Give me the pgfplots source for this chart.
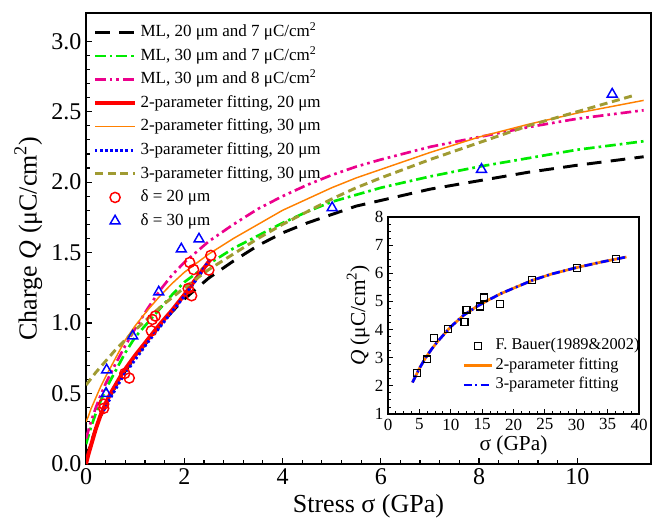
\documentclass[border=0pt]{standalone}
\usepackage{pgfplots}
\pgfplotsset{compat=1.18}
\usepackage{fontspec}
\setmainfont{Liberation Serif}
\definecolor{mgreen}{RGB}{0,235,0}
\definecolor{morange}{RGB}{255,128,0}
\definecolor{molive}{RGB}{160,155,50}
\begin{document}
\begin{tikzpicture}
\begin{axis}[
  name=main, at={(0,0)}, anchor=south west, scale only axis,
  width=423.75pt, height=338.25pt,
  xmin=0, xmax=11.5, ymin=0, ymax=3.2,
  xtick={0,2,4,6,8,10}, ytick={0,0.5,1,1.5,2,2.5,3},
  minor x tick num=4, minor y tick num=4,
  tick align=inside, xtick pos=bottom, ytick pos=left,
  major tick length=4.5pt, minor tick length=2.8pt,
  axis line style={line width=1.1pt},
  major tick style={line width=0.9pt, black},
  minor tick style={line width=0.9pt, black},
  /pgf/number format/assume math mode=true,
  tick label style={font=\fontsize{18}{20}\selectfont},
  y tick label style={/pgf/number format/.cd, fixed, fixed zerofill, precision=1},
  xlabel={Stress σ (GPa)},
  ylabel={Charge \textit{Q} (μC/cm\textsuperscript{2})},
  label style={font=\fontsize{19.5}{22}\selectfont},
  legend image code/.code={\draw[mark repeat=2,mark phase=2,#1] plot coordinates {(0pt,0pt) (15pt,0pt) (30pt,0pt)};},
  legend style={draw=none, fill=none, at={(rel axis cs:0.005,0.99)}, anchor=north west,
    font=\fontsize{12.75}{15}\selectfont,
    nodes={text height=9.5pt, text depth=3pt, inner sep=2.6pt}, row sep=0pt},
  legend cell align=left,
]
\addplot[black, line width=2.2pt, dash pattern=on 11pt off 7pt] coordinates {
(0,0.02) (0.05,0.09) (0.1,0.15) (0.2,0.25) (0.3,0.34) (0.4,0.42) (0.6,0.55) (0.8,0.66)
(1.0,0.76) (1.25,0.87) (1.5,0.98) (1.75,1.08) (2.0,1.17) (2.5,1.32) (3.0,1.44) (3.5,1.55)
(4.0,1.64) (4.5,1.71) (5.0,1.77) (5.5,1.83) (6.0,1.87) (7.0,1.95) (8.0,2.01) (9.0,2.07)
(10.0,2.12) (11.35,2.18)};
\addlegendentry{ML, 20 μm and 7 μC/cm\textsuperscript{2}}
\addplot[mgreen, line width=2pt, dash pattern=on 8pt off 3pt on 2pt off 3pt] coordinates {
(0,0.14) (0.05,0.2) (0.1,0.26) (0.2,0.36) (0.3,0.45) (0.4,0.53) (0.6,0.66) (0.8,0.79)
(1.0,0.9) (1.25,1.0) (1.5,1.1) (1.75,1.2) (2.0,1.29) (2.5,1.42) (3.0,1.53) (3.5,1.62)
(4.0,1.71) (4.5,1.79) (5.0,1.86) (5.5,1.91) (6.0,1.96) (7.0,2.04) (8.0,2.11) (9.0,2.17)
(10.0,2.23) (11.35,2.29)};
\addlegendentry{ML, 30 μm and 7 μC/cm\textsuperscript{2}}
\addplot[magenta, line width=2pt, dash pattern=on 8pt off 3pt on 2pt off 3pt on 2pt off 3pt] coordinates {
(0,0.18) (0.05,0.24) (0.1,0.3) (0.2,0.4) (0.3,0.49) (0.4,0.57) (0.6,0.71) (0.8,0.84)
(1.0,0.96) (1.25,1.1) (1.5,1.23) (1.75,1.34) (2.0,1.43) (2.5,1.58) (3.0,1.7) (3.5,1.81)
(4.0,1.9) (4.5,1.98) (5.0,2.05) (5.5,2.11) (6.0,2.16) (7.0,2.25) (8.0,2.32) (9.0,2.39)
(10.0,2.45) (11.35,2.51)};
\addlegendentry{ML, 30 μm and 8 μC/cm\textsuperscript{2}}
\addplot[red, line width=3pt] coordinates {
(0,0) (0.05,0.07) (0.1,0.13) (0.2,0.25) (0.3,0.35) (0.4,0.43) (0.5,0.5) (0.75,0.65)
(1.0,0.77) (1.25,0.88) (1.5,0.99) (1.75,1.09) (2.0,1.2) (2.25,1.32) (2.53,1.45)};
\addlegendentry{2-parameter fitting, 20 μm}
\addplot[morange, line width=1.1pt] coordinates {
(0,0.3) (0.05,0.34) (0.1,0.39) (0.2,0.47) (0.3,0.55) (0.4,0.62) (0.6,0.75) (0.8,0.88)
(1.0,0.98) (1.25,1.09) (1.5,1.19) (1.75,1.28) (2.0,1.36) (2.5,1.49) (3.0,1.6) (3.5,1.7)
(4.0,1.8) (4.5,1.88) (5.0,1.96) (5.5,2.03) (6.0,2.09) (7.0,2.21) (8.0,2.32) (9.0,2.41)
(10.0,2.49) (11.35,2.58)};
\addlegendentry{2-parameter fitting, 30 μm}
\addplot[blue, line width=2.2pt, dash pattern=on 1.8pt off 2pt] coordinates {
(0.36,0.38) (0.5,0.47) (0.75,0.62) (1.0,0.74) (1.25,0.86) (1.5,0.97) (1.75,1.08)
(2.0,1.19) (2.25,1.31) (2.5,1.44)};
\addlegendentry{3-parameter fitting, 20 μm}
\addplot[molive, line width=2.2pt, dash pattern=on 6pt off 3.5pt] coordinates {
(0,0.56) (0.2,0.65) (0.4,0.73) (0.6,0.81) (0.8,0.88) (1.0,0.95) (1.25,1.03) (1.5,1.11)
(1.75,1.18) (2.0,1.25) (2.5,1.38) (3.0,1.49) (3.5,1.6) (4.0,1.7) (4.5,1.79) (5.0,1.88)
(5.5,1.96) (6.0,2.03) (7.0,2.16) (8.0,2.28) (9.0,2.4) (10.0,2.5) (11.2,2.62)};
\addlegendentry{3-parameter fitting, 30 μm}
\addplot[only marks, red, mark=o, mark size=3.8pt, mark options={line width=1.1pt}] coordinates {
(0.36,0.395) (0.36,0.425) (0.79,0.643) (0.88,0.61) (1.33,0.945) (1.35,1.026) (1.41,1.05)
(2.08,1.245) (2.15,1.194) (2.11,1.43) (2.19,1.38) (2.50,1.376) (2.54,1.48)};
\addlegendentry{δ = 20 μm}
\addplot[only marks, blue, mark=triangle, mark size=4.3pt, mark options={line width=1.1pt}] coordinates {
(0.41,0.50) (0.42,0.667) (0.95,0.908) (1.48,1.22) (1.94,1.525) (2.30,1.596) (5.01,1.818)
(8.05,2.09) (10.71,2.624)};
\addlegendentry{δ = 30 μm}
\end{axis}
\begin{axis}[
  at={(226.5pt,37.5pt)}, anchor=south west, scale only axis,
  width=188.25pt, height=147.75pt,
  xmin=0, xmax=40, ymin=1, ymax=8,
  xtick={0,5,...,40}, ytick={1,2,...,8},
  minor x tick num=3, minor y tick num=3,
  tick align=inside, xtick pos=bottom, ytick pos=left,
  major tick length=3.5pt, minor tick length=2pt,
  axis line style={line width=0.8pt},
  major tick style={line width=0.7pt, black},
  minor tick style={line width=0.7pt, black},
  axis background/.style={fill=white},
  /pgf/number format/assume math mode=true,
  tick label style={font=\fontsize{12.75}{14}\selectfont},
  xlabel={σ (GPa)},
  ylabel={\textit{Q} (μC/cm\textsuperscript{2})},
  label style={font=\fontsize{16}{18}\selectfont},
  xlabel style={yshift=3pt}, ylabel style={yshift=-3pt},
  legend image code/.code={\draw[mark repeat=2,mark phase=2,#1] plot coordinates {(0pt,0pt) (10.5pt,0pt) (21pt,0pt)};},
  legend style={draw=none, fill=none, at={(rel axis cs:0.28,0.41)}, anchor=north west,
    font=\fontsize{12.25}{14}\selectfont,
    nodes={text height=8.5pt, text depth=2.5pt, inner sep=1.8pt}, row sep=0pt},
  legend cell align=left,
]
\addplot[only marks, black, mark=square, mark size=2.6pt, mark options={line width=0.9pt}] coordinates {
(4.62,2.47) (6.2,2.94) (7.33,3.69) (9.56,4.03) (12.2,4.28) (12.5,4.71) (14.7,4.82)
(15.25,5.14) (17.85,4.91) (23.0,5.77) (30.1,6.18) (36.3,6.52)};
\addlegendentry{F. Bauer(1989\&2002)}
\addplot[morange, line width=2pt] coordinates {
(3.9,2.12) (5,2.62) (6,3.0) (7,3.32) (8,3.6) (10,4.1) (12,4.5) (14,4.8) (16,5.05)
(18,5.28) (20,5.47) (23,5.75) (26,5.97) (30,6.2) (34,6.4) (38,6.58)};
\addlegendentry{2-parameter fitting}
\addplot[blue, line width=2pt, dash pattern=on 6pt off 2.5pt on 1.5pt off 2.5pt] coordinates {
(3.9,2.12) (5,2.62) (6,3.0) (7,3.32) (8,3.6) (10,4.1) (12,4.5) (14,4.8) (16,5.05)
(18,5.28) (20,5.47) (23,5.75) (26,5.97) (30,6.2) (34,6.4) (38,6.58)};
\addlegendentry{3-parameter fitting}
\end{axis}
\path[use as bounding box] (-64.5pt,-46.5pt) rectangle (429.75pt,348pt);
\end{tikzpicture}
\end{document}
